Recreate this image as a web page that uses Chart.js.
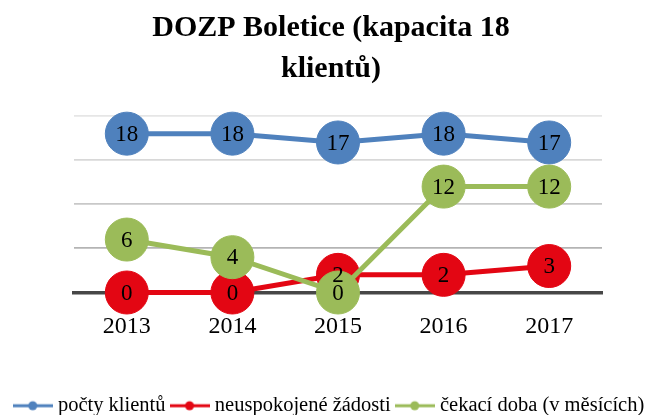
<!DOCTYPE html>
<html>
<head>
<meta charset="utf-8">
<script src="https://cdn.jsdelivr.net/npm/chart.js@4/dist/chart.umd.min.js"></script>
<style>
html,body{margin:0;padding:0;background:#fff;}
#wrap{width:662px;height:415px;}
</style>
</head>
<body>
<div id="wrap"><canvas id="c" width="662" height="415"></canvas></div>
<script>
const categories = ['2013', '2014', '2015', '2016', '2017'];
const pocetKlientu = [18, 18, 17, 18, 17];
const neuspokojeneZadosti = [0, 0, 2, 2, 3];
const cekaciDoba = [6, 4, 0, 12, 12];
const seriesNames = ['počty klientů', 'neuspokojené žádosti', 'čekací doba (v měsících)'];
const seriesColors = ['#4F81BD', '#E30613', '#9BBB59'];
const titleLines = ['DOZP Boletice (kapacita 18', 'klientů)'];

function legendIcon(color) {
  const cv = document.createElement('canvas');
  cv.width = 40; cv.height = 12;
  const g = cv.getContext('2d');
  g.strokeStyle = color; g.lineWidth = 3;
  g.beginPath(); g.moveTo(0, 6); g.lineTo(40, 6); g.stroke();
  g.fillStyle = color;
  g.beginPath(); g.arc(20, 6, 4.5, 0, Math.PI * 2); g.fill();
  return cv;
}
const icons = seriesColors.map(legendIcon);

const dataLabels = {
  id: 'dataLabels',
  afterDatasetsDraw(chart) {
    const ctx = chart.ctx;
    ctx.save();
    ctx.font = '23px "Liberation Serif"';
    ctx.fillStyle = '#000';
    ctx.textAlign = 'center';
    ctx.textBaseline = 'middle';
    chart.data.datasets.forEach((ds, i) => {
      const meta = chart.getDatasetMeta(i);
      meta.data.forEach((pt, j) => {
        ctx.fillText(String(ds.data[j]), pt.x, pt.y + 1);
      });
    });
    ctx.restore();
  }
};

const gridShades = { 20: '#E6E6E6', 15: '#D8D8D8', 10: '#C8C8C8', 5: '#B4B4B4' };

const seriesData = [pocetKlientu, neuspokojeneZadosti, cekaciDoba];
const datasets = seriesData.map((d, i) => ({
  label: seriesNames[i],
  data: d,
  borderColor: seriesColors[i],
  backgroundColor: seriesColors[i],
  pointBackgroundColor: seriesColors[i],
  pointBorderColor: seriesColors[i],
  borderWidth: 5,
  pointRadius: 21.5,
  pointHoverRadius: 21.5,
  pointBorderWidth: 1,
  tension: 0,
  clip: false,
  order: 3 - i,
  yAxisID: 'y'
}));

new Chart(document.getElementById('c'), {
  type: 'line',
  data: { labels: categories, datasets },
  plugins: [dataLabels],
  options: {
    responsive: false,
    animation: false,
    events: [],
    layout: { padding: { left: 0, right: 0, top: 0, bottom: -11 } },
    plugins: {
      title: {
        display: true,
        text: titleLines,
        color: '#000',
        font: { family: '"Liberation Serif"', size: 30, weight: 'bold', lineHeight: 1.35 },
        padding: { top: 8, bottom: 27 }
      },
      legend: {
        display: true,
        position: 'bottom',
        labels: {
          usePointStyle: true,
          pointStyleWidth: 30,
          padding: 9,
          color: '#000',
          font: { family: '"Liberation Serif"', size: 20.5 },
          generateLabels(chart) {
            return chart.data.datasets.map((ds, i) => ({
              text: ds.label,
              pointStyle: icons[i],
              fillStyle: seriesColors[i],
              strokeStyle: seriesColors[i],
              lineWidth: 0,
              hidden: false,
              datasetIndex: i
            }));
          }
        }
      },
      tooltip: { enabled: false }
    },
    scales: {
      x: {
        offset: true,
        grid: { display: false, drawTicks: false },
        border: { display: true, color: '#474747', width: 3.5 },
        ticks: { color: '#000', padding: 20, font: { family: '"Liberation Serif"', size: 24 } },
        afterFit: s => { s.height = 94; }
      },
      y: {
        min: 0,
        max: 20,
        ticks: { display: false, stepSize: 5 },
        grid: {
          drawTicks: false,
          color: c => gridShades[c.tick.value] || 'rgba(0,0,0,0)',
          lineWidth: 1.8
        },
        border: { display: false },
        afterFit: s => { s.width = 74; }
      },
      yr: {
        position: 'right',
        display: true,
        ticks: { display: false },
        grid: { display: false, drawTicks: false },
        border: { display: false },
        afterFit: s => { s.width = 60; }
      }
    }
  }
});
</script>
</body>
</html>
